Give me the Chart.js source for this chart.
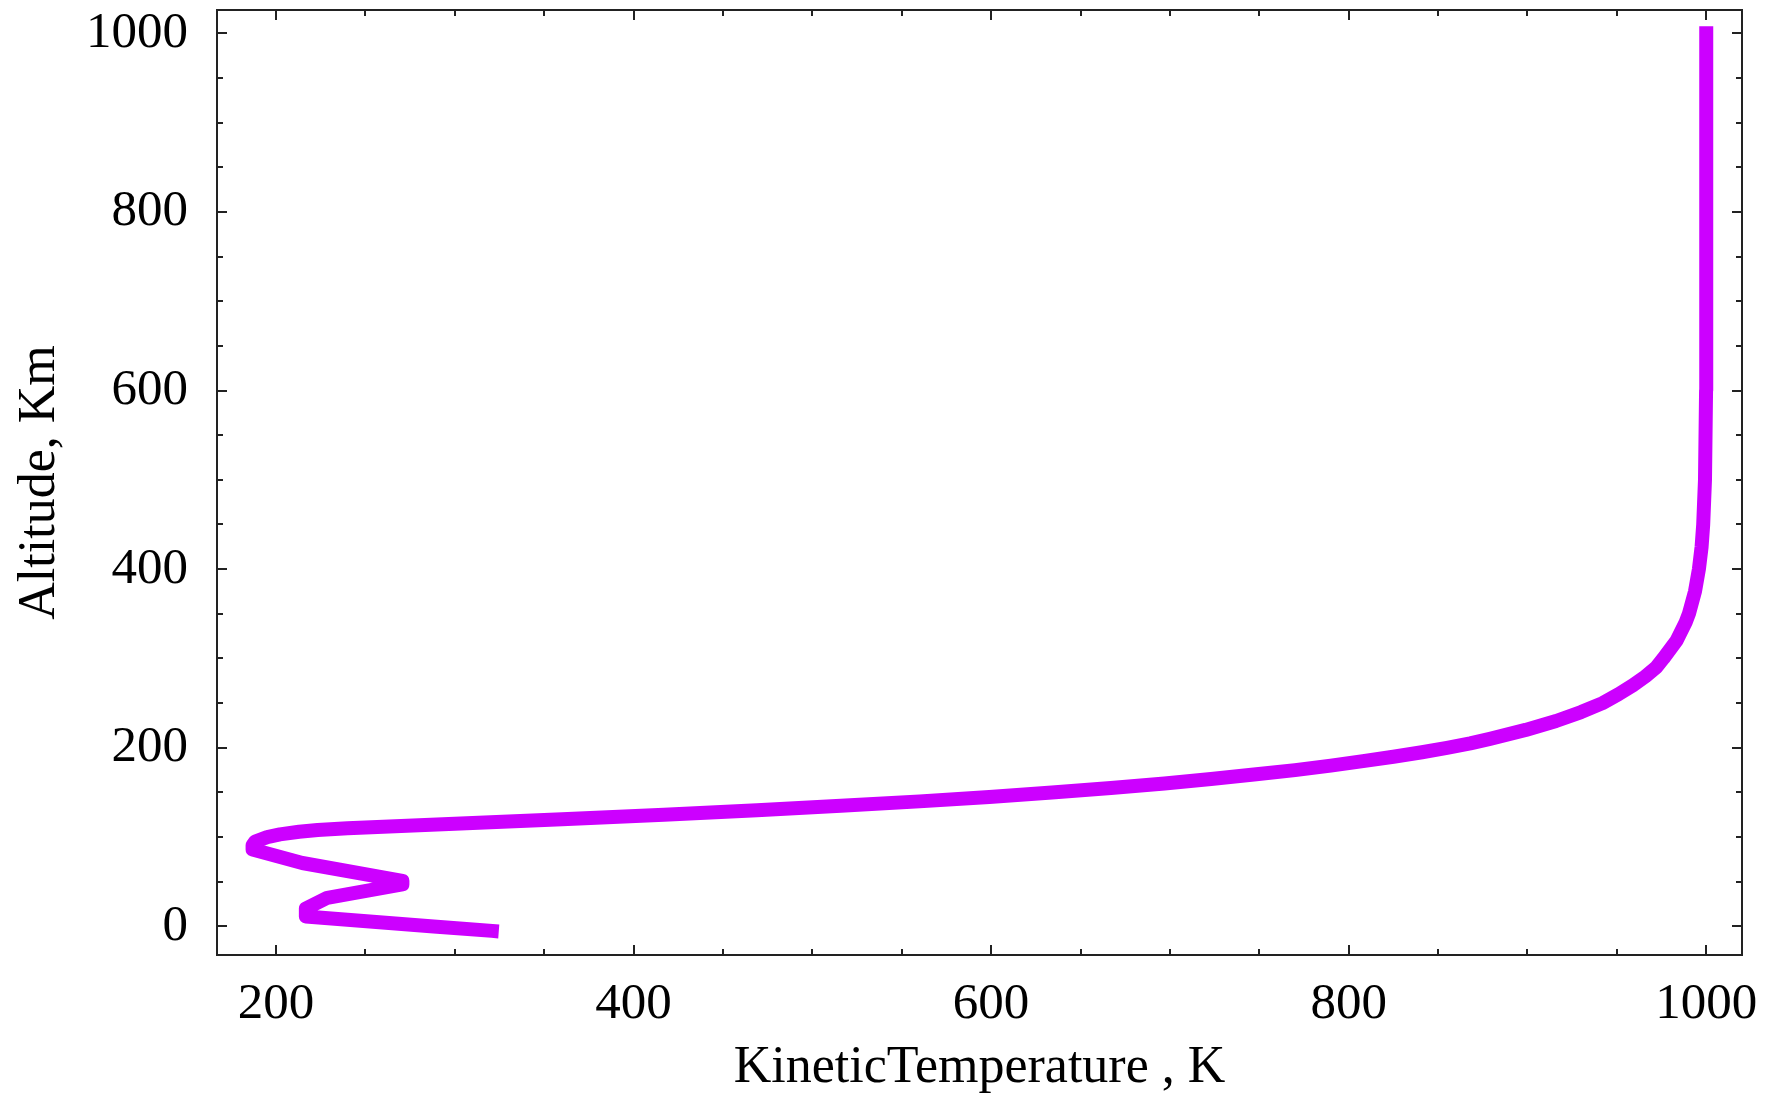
<!DOCTYPE html>
<html>
<head>
<meta charset="UTF-8">
<style>
    html, body { margin: 0; padding: 0; background: #ffffff; }
    #wrap { width: 1771px; height: 1100px; }
</style>
</head>
<body>
<div id="wrap">
    <canvas id="myChart" width="1771" height="1100"></canvas>
</div>

<script src="https://cdn.jsdelivr.net/npm/chart.js"></script>

<script>
    // altitude (km) and kinetic temperature (K)
    const altitude = [-5, 0, 11, 20, 32, 47, 51, 71, 86, 91, 95, 100, 103, 106, 108, 110, 115, 120,
        125, 130, 135, 140, 145, 150, 155, 160, 165, 170, 175, 180, 185, 190, 195, 200, 205, 210,
        220, 230, 240, 250, 260, 270, 280, 290, 300, 320, 340, 350, 375, 400, 425, 450, 500,
        600, 700, 800, 900, 1000];
    const temperature = [320.7, 288.2, 216.7, 216.7, 228.7, 270.7, 270.7, 214.7, 186.9, 186.9, 188.4, 195.1, 202.2, 212.9, 223.3, 240, 300, 360,
        417, 469, 516, 560, 599, 634, 667, 697, 723, 747, 770, 790, 808, 825, 841, 855, 868, 879,
        899, 916, 930, 942, 951, 959, 966, 972, 976, 983.4, 988.4, 990.3, 993.7, 995.9, 997.4, 998.3, 999.3,
        999.9, 1000, 1000, 1000, 1000];

    const xTickLabels = [200, 400, 600, 800, 1000];
    const yTickLabels = [0, 200, 400, 600, 800, 1000];

    const lineColor = 'rgb(204, 0, 255)';
    const serif = 'Liberation Serif, "Times New Roman", serif';

    // frame round the plot with inward ticks on all four sides
    const framePlugin = {
        id: 'frame',
        afterDraw(chart) {
            const ctx = chart.ctx;
            const a = chart.chartArea;
            const x = chart.scales.x;
            const y = chart.scales.y;
            ctx.save();
            ctx.strokeStyle = '#222';
            ctx.lineWidth = 2;
            ctx.strokeRect(a.left, a.top, a.right - a.left, a.bottom - a.top);
            ctx.beginPath();
            for (let v = xTickLabels[0]; v <= xTickLabels[xTickLabels.length - 1]; v += 50) {
                const px = Math.round(x.getPixelForValue(v));
                const len = xTickLabels.includes(v) ? 10 : 6;
                ctx.moveTo(px, a.bottom); ctx.lineTo(px, a.bottom - len);
                ctx.moveTo(px, a.top); ctx.lineTo(px, a.top + len);
            }
            for (let v = yTickLabels[0]; v <= yTickLabels[yTickLabels.length - 1]; v += 50) {
                const py = Math.round(y.getPixelForValue(v));
                const len = yTickLabels.includes(v) ? 10 : 6;
                ctx.moveTo(a.left, py); ctx.lineTo(a.left + len, py);
                ctx.moveTo(a.right, py); ctx.lineTo(a.right - len, py);
            }
            ctx.stroke();
            ctx.restore();
        }
    };

    // fixed axis boxes, no extra edge padding for the labels
    function fitX(s) {
        s.height = 145;
        s.paddingLeft = 0; s.paddingRight = 0;
    }
    function fitY(s) {
        s.width = 217;
        s.paddingTop = 0; s.paddingBottom = 0;
    }

    const points = altitude.map((h, i) => ({ x: temperature[i], y: h }));

    new Chart(document.getElementById('myChart'), {
        type: 'scatter',
        data: {
            datasets: [{
                data: points,
                showLine: true,
                borderColor: lineColor,
                backgroundColor: lineColor,
                borderWidth: 14,
                borderCapStyle: 'square',
                borderJoinStyle: 'round',
                pointRadius: 0,
                tension: 0
            }]
        },
        options: {
            responsive: false,
            animation: false,
            devicePixelRatio: 1,
            layout: { padding: { top: 10, right: 29, left: 0, bottom: 0 } },
            plugins: { legend: { display: false }, tooltip: { enabled: false } },
            scales: {
                x: {
                    type: 'linear',
                    min: 167,
                    max: 1020,
                    afterBuildTicks: s => { s.ticks = xTickLabels.map(v => ({ value: v })); },
                    afterFit: fitX,
                    grid: { display: false, drawTicks: false },
                    border: { display: false },
                    ticks: {
                        font: { family: serif, size: 51 },
                        color: '#000',
                        padding: 19,
                        maxRotation: 0,
                        autoSkip: false,
                        callback: v => String(v)
                    },
                    title: {
                        display: true,
                        text: 'KineticTemperature , K',
                        font: { family: serif, size: 52 },
                        color: '#000',
                        padding: { top: 0, bottom: 0 }
                    }
                },
                y: {
                    type: 'linear',
                    min: -32,
                    max: 1026,
                    afterBuildTicks: s => { s.ticks = yTickLabels.map(v => ({ value: v })); },
                    afterFit: fitY,
                    grid: { display: false, drawTicks: false },
                    border: { display: false },
                    ticks: {
                        font: { family: serif, size: 51 },
                        color: '#000',
                        padding: 29,
                        autoSkip: false,
                        callback: v => String(v)
                    },
                    title: {
                        display: true,
                        text: 'Altitude, Km',
                        font: { family: serif, size: 52 },
                        color: '#000',
                        padding: { top: 9, bottom: 0 }
                    }
                }
            }
        },
        plugins: [framePlugin]
    });
</script>
</body>
</html>
